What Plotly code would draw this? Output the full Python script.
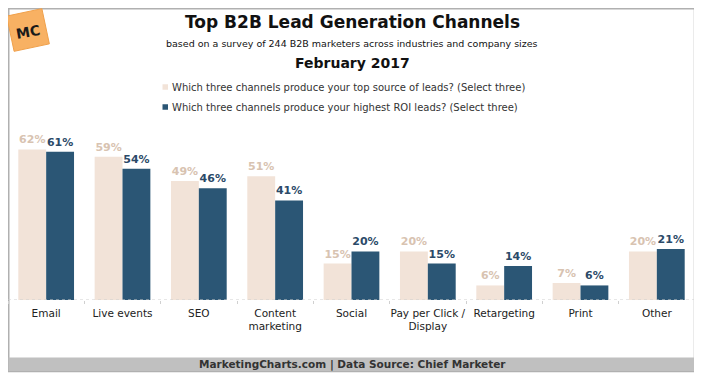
import plotly.graph_objects as go
import math

categories = ["Email", "Live events", "SEO", "Content<br>marketing", "Social",
              "Pay per Click /<br>Display", "Retargeting", "Print", "Other"]
top_source = [62, 59, 49, 51, 15, 20, 6, 7, 20]
highest_roi = [61, 54, 46, 41, 20, 15, 14, 6, 21]
series_names = ["Which three channels produce your top source of leads? (Select three)",
                "Which three channels produce your highest ROI leads? (Select three)"]

# page body has an 8px margin; the figure is sized so it fits the 702x380 window
OFF = 8
W, H = 702 - OFF, 380 - OFF
ML, MR, MT, MB = 0, 7, 122, 80
PW = W - ML - MR
PH = H - MT - MB

def px(x):  # reference-window pixel -> paper
    return (x - OFF - ML) / PW

def py(y):
    return (H - MB - (y - OFF)) / PH

PALE = "#f2e3d8"
DARK = "#2b5675"
PALE_TXT = "#d8c3b1"
DARK_TXT = "#2b4a68"
FONT = "DejaVu Sans"

fig = go.Figure()
fig.add_trace(go.Bar(x=categories, y=top_source, name=series_names[0], marker_color=PALE,
                     marker_line_width=0, texttemplate="%{y}%", textposition="outside",
                     textfont=dict(family=FONT, size=11, color=PALE_TXT, weight="bold"),
                     cliponaxis=False, showlegend=False))
fig.add_trace(go.Bar(x=categories, y=highest_roi, name=series_names[1], marker_color=DARK,
                     marker_line_width=0, texttemplate="%{y}%", textposition="outside",
                     textfont=dict(family=FONT, size=11, color=DARK_TXT, weight="bold"),
                     cliponaxis=False, showlegend=False))

shapes = []
# outer border
shapes.append(dict(type="rect", xref="paper", yref="paper", x0=px(8.75), x1=px(694.5),
                   y0=py(371.5), y1=py(8.75), line=dict(color="#b0b0b0", width=1.5), layer="below"))
# footer band
shapes.append(dict(type="rect", xref="paper", yref="paper", x0=px(8.5), x1=px(694.5),
                   y0=py(371), y1=py(357.5), fillcolor="#c0c0c0", line=dict(width=0), layer="below"))
# baseline dotted
shapes.append(dict(type="line", xref="paper", yref="y", x0=0, x1=1, y0=0, y1=0,
                   line=dict(color="#cfcfcf", width=1, dash="dot")))
# logo (rotated square)
cx, cy, s, ang = 28, 30, 18, math.radians(-12)
pts = []
for dx, dy in [(-s, -s), (s, -s), (s, s), (-s, s)]:
    rx = cx + dx * math.cos(ang) - dy * math.sin(ang)
    ry = cy + dx * math.sin(ang) + dy * math.cos(ang)
    pts.append((px(rx), py(ry)))
path = "M " + " L ".join(f"{a:.4f},{b:.4f}" for a, b in pts) + " Z"
shapes.append(dict(type="path", xref="paper", yref="paper", path=path,
                   fillcolor="#f8b163", line=dict(color="#f0a04a", width=1)))

annotations = [
    dict(text="<b>Top B2B Lead Generation Channels</b>", x=px(353), y=py(22), xref="paper", yref="paper",
         showarrow=False, font=dict(family=FONT, size=17, color="#111"), xanchor="center", yanchor="middle"),
    dict(text="based on a survey of 244 B2B marketers across industries and company sizes", x=px(352), y=py(43),
         xref="paper", yref="paper", showarrow=False, font=dict(family=FONT, size=9.5, color="#111"),
         xanchor="center", yanchor="middle"),
    dict(text="<b>February 2017</b>", x=px(352), y=py(63), xref="paper", yref="paper",
         showarrow=False, font=dict(family=FONT, size=14, color="#111"), xanchor="center", yanchor="middle"),
    dict(text="<b>MarketingCharts.com | Data Source: Chief Marketer</b>", x=px(352), y=py(364.5),
         xref="paper", yref="paper", showarrow=False, font=dict(family=FONT, size=10.5, color="#333"),
         xanchor="center", yanchor="middle"),
    dict(text="<b>MC</b>", x=px(28), y=py(32), xref="paper", yref="paper", showarrow=False,
         textangle=-10, font=dict(family=FONT, size=14, color="#1a1a1a"), xanchor="center", yanchor="middle"),
]

# legend: small squares + text
for nm, col, yy in zip(series_names, [PALE, DARK], [87, 107]):
    shapes.append(dict(type="rect", xref="paper", yref="paper", x0=px(162.5), x1=px(168),
                       y0=py(yy + 2.75), y1=py(yy - 2.75), fillcolor=col, line=dict(width=0)))
    annotations.append(dict(text=nm, x=px(170), y=py(yy), xref="paper", yref="paper", showarrow=False,
                            font=dict(family=FONT, size=10, color="#333"), xanchor="left", yanchor="middle"))

fig.update_layout(
    width=W, height=H, margin=dict(l=ML, r=MR, t=MT, b=MB, autoexpand=False),
    paper_bgcolor="white", plot_bgcolor="white",
    barmode="group", bargap=0.27, bargroupgap=0, showlegend=False,
    shapes=shapes, annotations=annotations,
    font=dict(family=FONT, color="#222"),
    xaxis=dict(showgrid=False, showline=False, ticks="outside", tickson="boundaries", ticklen=3,
               tickangle=0, automargin=False, ticklabelstandoff=5,
               tickcolor="#d0d0d0", tickfont=dict(family=FONT, size=10.5, color="#222"), zeroline=False),
    yaxis=dict(range=[0, 70], visible=False, showgrid=False, zeroline=False, automargin=False),
)

fig.write_html("out.html")
